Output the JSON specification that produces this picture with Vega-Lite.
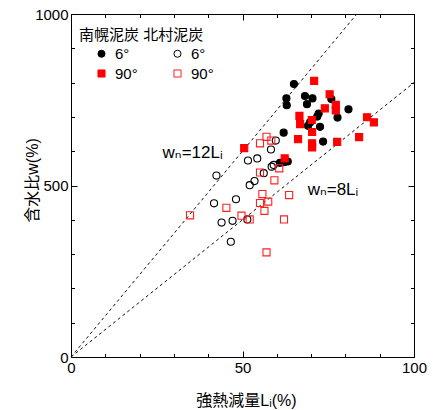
{
  "$schema": "https://vega.github.io/schema/vega-lite/v6.json",
  "width": 343,
  "height": 343,
  "autosize": {"type": "none"},
  "padding": {"left": 71, "top": 14, "right": 27, "bottom": 53},
  "background": "white",
  "config": {
    "view": {"stroke": "black", "strokeWidth": 1},
    "axis": {
      "domainColor": "black",
      "domainWidth": 1,
      "tickColor": "black",
      "tickWidth": 1,
      "grid": false,
      "labelFlush": false,
      "labelFont": "Liberation Sans",
      "labelFontSize": 15,
      "labelColor": "black",
      "titleFont": "Liberation Sans, Noto Sans CJK JP",
      "titleFontSize": 16,
      "titleFontWeight": "normal",
      "titleColor": "black"
    },
    "legend": {
      "orient": "none",
      "legendX": 8,
      "legendY": 14,
      "columns": 2,
      "padding": 0,
      "titleFont": "Liberation Sans, Noto Sans CJK JP",
      "titleFontSize": 15,
      "titleFontWeight": "normal",
      "titleColor": "black",
      "titlePadding": 3,
      "labelFont": "Liberation Sans",
      "labelFontSize": 15,
      "labelColor": "black",
      "symbolSize": 50,
      "symbolStrokeWidth": 1,
      "symbolOffset": 15,
      "labelOffset": 6,
      "columnPadding": 17,
      "rowPadding": 4
    }
  },
  "layer": [
    {
      "data": {"values": [
        {"line": "12", "L": 0, "w": 0},
        {"line": "12", "L": 83.333, "w": 1000},
        {"line": "8", "L": 0, "w": 0},
        {"line": "8", "L": 100, "w": 800}
      ]},
      "mark": {"type": "line", "color": "#111111", "strokeWidth": 1, "strokeDash": [3, 3]},
      "encoding": {
        "x": {"field": "L", "type": "quantitative", "scale": {"domain": [0, 100], "nice": false},
          "axis": {"orient": "bottom", "values": [0,10,20,30,40,50,60,70,80,90,100], "format": "d",
            "labelExpr": "datum.value % 50 === 0 ? datum.label : ''",
            "tickSize": {"condition": {"test": "datum.value % 50 === 0", "value": -6}, "value": -3.5},
            "labelPadding": 9, "title": "強熱減量Lᵢ(%)", "titleX": 175, "titleY": 43, "titleBaseline": "middle"}},
        "y": {"field": "w", "type": "quantitative", "scale": {"domain": [0, 1000], "nice": false},
          "axis": {"orient": "left", "values": [0,100,200,300,400,500,600,700,800,900,1000], "format": "d",
            "labelExpr": "datum.value % 500 === 0 ? datum.label : ''",
            "tickSize": {"condition": {"test": "datum.value % 500 === 0", "value": -6}, "value": -3.5},
            "labelPadding": 9, "title": "含水比w(%)", "titleX": -39, "titleY": 166, "titleBaseline": "middle"}},
        "detail": {"field": "line"}
      }
    },
    {
      "data": {"values": [
        {"series": "南幌泥炭 6°", "L": 65.0, "w": 796},
        {"series": "南幌泥炭 6°", "L": 62.8, "w": 754},
        {"series": "南幌泥炭 6°", "L": 62.9, "w": 734},
        {"series": "南幌泥炭 6°", "L": 68.2, "w": 761},
        {"series": "南幌泥炭 6°", "L": 70.4, "w": 754},
        {"series": "南幌泥炭 6°", "L": 68.8, "w": 737},
        {"series": "南幌泥炭 6°", "L": 75.9, "w": 752},
        {"series": "南幌泥炭 6°", "L": 80.9, "w": 722},
        {"series": "南幌泥炭 6°", "L": 72.2, "w": 710},
        {"series": "南幌泥炭 6°", "L": 71.8, "w": 701},
        {"series": "南幌泥炭 6°", "L": 77.7, "w": 698},
        {"series": "南幌泥炭 6°", "L": 69.7, "w": 684},
        {"series": "南幌泥炭 6°", "L": 69.1, "w": 674},
        {"series": "南幌泥炭 6°", "L": 72.6, "w": 671},
        {"series": "南幌泥炭 6°", "L": 62.0, "w": 654},
        {"series": "南幌泥炭 6°", "L": 73.5, "w": 628},
        {"series": "南幌泥炭 6°", "L": 60.9, "w": 566},
        {"series": "南幌泥炭 6°", "L": 62.1, "w": 568},
        {"series": "南幌泥炭 6°", "L": 63.2, "w": 570},
        {"series": "南幌泥炭 90°", "L": 70.9, "w": 805},
        {"series": "南幌泥炭 90°", "L": 75.4, "w": 766},
        {"series": "南幌泥炭 90°", "L": 77.2, "w": 735},
        {"series": "南幌泥炭 90°", "L": 77.2, "w": 719},
        {"series": "南幌泥炭 90°", "L": 74.0, "w": 725},
        {"series": "南幌泥炭 90°", "L": 66.6, "w": 703},
        {"series": "南幌泥炭 90°", "L": 66.8, "w": 679},
        {"series": "南幌泥炭 90°", "L": 70.2, "w": 691},
        {"series": "南幌泥炭 90°", "L": 70.3, "w": 656},
        {"series": "南幌泥炭 90°", "L": 66.2, "w": 635},
        {"series": "南幌泥炭 90°", "L": 70.3, "w": 623},
        {"series": "南幌泥炭 90°", "L": 70.3, "w": 611},
        {"series": "南幌泥炭 90°", "L": 77.6, "w": 627},
        {"series": "南幌泥炭 90°", "L": 84.0, "w": 641},
        {"series": "南幌泥炭 90°", "L": 86.3, "w": 699},
        {"series": "南幌泥炭 90°", "L": 88.3, "w": 684},
        {"series": "南幌泥炭 90°", "L": 50.5, "w": 609},
        {"series": "南幌泥炭 90°", "L": 62.3, "w": 579},
        {"series": "北村泥炭 6°", "L": 42.4, "w": 529},
        {"series": "北村泥炭 6°", "L": 41.7, "w": 448},
        {"series": "北村泥炭 6°", "L": 48.1, "w": 460},
        {"series": "北村泥炭 6°", "L": 43.9, "w": 392},
        {"series": "北村泥炭 6°", "L": 47.1, "w": 397},
        {"series": "北村泥炭 6°", "L": 46.6, "w": 336},
        {"series": "北村泥炭 6°", "L": 51.4, "w": 401},
        {"series": "北村泥炭 6°", "L": 52.1, "w": 501},
        {"series": "北村泥炭 6°", "L": 53.5, "w": 513},
        {"series": "北村泥炭 6°", "L": 56.2, "w": 536},
        {"series": "北村泥炭 6°", "L": 58.5, "w": 555},
        {"series": "北村泥炭 6°", "L": 59.1, "w": 560},
        {"series": "北村泥炭 6°", "L": 51.6, "w": 573},
        {"series": "北村泥炭 6°", "L": 54.3, "w": 579},
        {"series": "北村泥炭 6°", "L": 58.3, "w": 605},
        {"series": "北村泥炭 6°", "L": 59.7, "w": 631},
        {"series": "北村泥炭 90°", "L": 34.7, "w": 413},
        {"series": "北村泥炭 90°", "L": 45.3, "w": 435},
        {"series": "北村泥炭 90°", "L": 49.7, "w": 412},
        {"series": "北村泥炭 90°", "L": 52.1, "w": 401},
        {"series": "北村泥炭 90°", "L": 55.1, "w": 538},
        {"series": "北村泥炭 90°", "L": 55.8, "w": 475},
        {"series": "北村泥炭 90°", "L": 55.1, "w": 449},
        {"series": "北村泥炭 90°", "L": 57.5, "w": 453},
        {"series": "北村泥炭 90°", "L": 56.4, "w": 426},
        {"series": "北村泥炭 90°", "L": 63.6, "w": 472},
        {"series": "北村泥炭 90°", "L": 62.1, "w": 401},
        {"series": "北村泥炭 90°", "L": 57.0, "w": 305},
        {"series": "北村泥炭 90°", "L": 60.7, "w": 550},
        {"series": "北村泥炭 90°", "L": 59.3, "w": 515},
        {"series": "北村泥炭 90°", "L": 55.1, "w": 623},
        {"series": "北村泥炭 90°", "L": 57.0, "w": 642},
        {"series": "北村泥炭 90°", "L": 58.4, "w": 631}
      ]},
      "mark": {"type": "point", "size": 50, "strokeWidth": 1.1, "opacity": 1},
      "encoding": {
        "x": {"field": "L", "type": "quantitative", "scale": {"domain": [0, 100], "nice": false},
          "axis": {"orient": "top", "values": [0,10,20,30,40,50,60,70,80,90,100], "labels": false, "title": null,
            "tickSize": {"condition": {"test": "datum.value % 50 === 0", "value": -6}, "value": -3.5}}},
        "y": {"field": "w", "type": "quantitative", "scale": {"domain": [0, 1000], "nice": false},
          "axis": {"orient": "right", "values": [0,100,200,300,400,500,600,700,800,900,1000], "labels": false, "title": null,
            "tickSize": {"condition": {"test": "datum.value % 500 === 0", "value": -6}, "value": -3.5}}},
        "shape": {"field": "series", "type": "nominal",
          "scale": {"domain": ["南幌泥炭 6°", "南幌泥炭 90°", "北村泥炭 6°", "北村泥炭 90°"], "range": ["circle", "square", "circle", "square"]},
          "legend": {"title": "南幌泥炭  北村泥炭", "labelExpr": "split(datum.label, ' ')[1]"}},
        "fill": {"field": "series", "type": "nominal",
          "scale": {"domain": ["南幌泥炭 6°", "南幌泥炭 90°", "北村泥炭 6°", "北村泥炭 90°"], "range": ["black", "#ff0000", "transparent", "transparent"]},
          "legend": {"title": "南幌泥炭  北村泥炭", "labelExpr": "split(datum.label, ' ')[1]"}},
        "stroke": {"field": "series", "type": "nominal",
          "scale": {"domain": ["南幌泥炭 6°", "南幌泥炭 90°", "北村泥炭 6°", "北村泥炭 90°"], "range": ["black", "#ff0000", "black", "#ff2020"]},
          "legend": {"title": "南幌泥炭  北村泥炭", "labelExpr": "split(datum.label, ' ')[1]"}}
      }
    },
    {
      "data": {"values": [
        {"label": "wₙ=12Lᵢ", "L": 26.7, "w": 596},
        {"label": "wₙ=8Lᵢ", "L": 69.0, "w": 487}
      ]},
      "mark": {"type": "text", "align": "left", "baseline": "middle", "fontSize": 17, "font": "Liberation Sans, DejaVu Sans", "color": "black"},
      "encoding": {
        "x": {"field": "L", "type": "quantitative", "scale": {"domain": [0, 100], "nice": false}, "axis": null},
        "y": {"field": "w", "type": "quantitative", "scale": {"domain": [0, 1000], "nice": false}, "axis": null},
        "text": {"field": "label"}
      }
    }
  ],
  "resolve": {"axis": {"x": "independent", "y": "independent"}}
}
